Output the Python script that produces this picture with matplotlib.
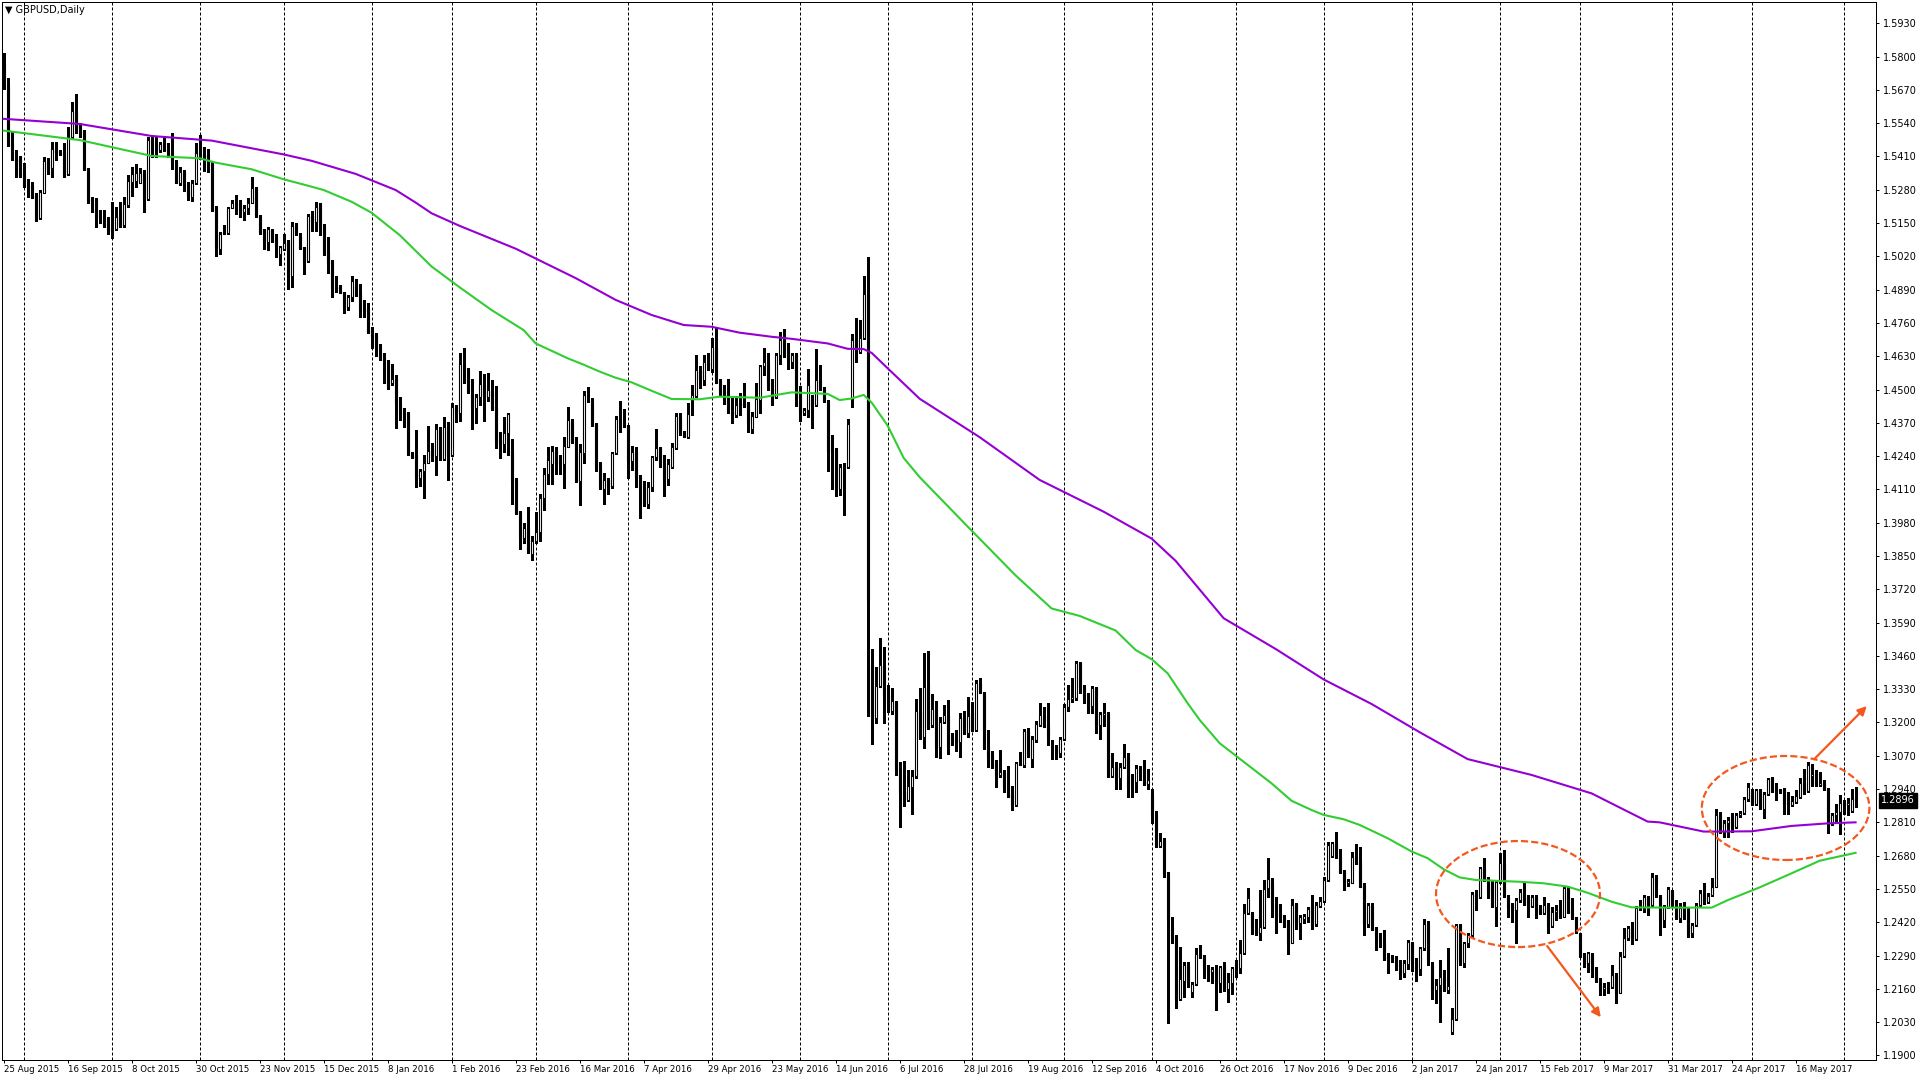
import numpy as np
import pandas as pd
import matplotlib
matplotlib.use("Agg")
import matplotlib.pyplot as plt
import matplotlib.transforms as mtransforms
from matplotlib.patches import Ellipse, FancyArrowPatch

# ---- data ----
SYMBOL = "GBPUSD,Daily"
FIRST_DAY = "2015-08-25"
SKIPPED_DAYS = ["2015-12-25", "2016-01-01"]   # no bars on these days
LAST_PRICE = 1.2896

OPEN = [
    1.5774, 1.5685, 1.5459, 1.5399, 1.5407, 1.5342, 1.5299, 1.5295, 1.5256, 1.5171,  # 0
    1.5269, 1.5393, 1.5365, 1.5442, 1.5426, 1.5422, 1.5340, 1.5487, 1.5588, 1.5533,  # 10
    1.5507, 1.5360, 1.5240, 1.5240, 1.5180, 1.5169, 1.5147, 1.5126, 1.5126, 1.5188,  # 20
    1.5141, 1.5219, 1.5312, 1.5316, 1.5308, 1.5344, 1.5243, 1.5474, 1.5458, 1.5437,  # 30
    1.5463, 1.5437, 1.5415, 1.5389, 1.5305, 1.5349, 1.5298, 1.5253, 1.5305, 1.5450,  # 40
    1.5415, 1.5415, 1.5380, 1.5203, 1.5047, 1.5113, 1.5112, 1.5210, 1.5229, 1.5229,  # 50
    1.5194, 1.5207, 1.5229, 1.5285, 1.5177, 1.5122, 1.5077, 1.5122, 1.5096, 1.5029,  # 60
    1.5047, 1.5079, 1.4944, 1.5142, 1.5099, 1.5055, 1.5003, 1.5177, 1.5155, 1.5227,  # 70
    1.5138, 1.5037, 1.5003, 1.4901, 1.4899, 1.4879, 1.4821, 1.4862, 1.4908, 1.4875,  # 80
    1.4813, 1.4813, 1.4730, 1.4711, 1.4670, 1.4628, 1.4613, 1.4524, 1.4540, 1.4443,  # 90
    1.4409, 1.4409, 1.4251, 1.4240, 1.4153, 1.4183, 1.4214, 1.4266, 1.4240, 1.4344,  # 100
    1.4227, 1.4357, 1.4244, 1.4430, 1.4407, 1.4595, 1.4582, 1.4482, 1.4426, 1.4469,  # 110
    1.4517, 1.4469, 1.4495, 1.4430, 1.4302, 1.4289, 1.4331, 1.4263, 1.4146, 1.4019,  # 120
    1.3922, 1.3958, 1.3857, 1.3909, 1.3945, 1.4075, 1.4172, 1.4211, 1.4261, 1.4214,  # 130
    1.4211, 1.4276, 1.4373, 1.4296, 1.4144, 1.4253, 1.4478, 1.4456, 1.4365, 1.4205,  # 140
    1.4110, 1.4146, 1.4124, 1.4251, 1.4381, 1.4374, 1.4358, 1.4219, 1.4258, 1.4158,  # 150
    1.4119, 1.4053, 1.4121, 1.4236, 1.4271, 1.4199, 1.4150, 1.4197, 1.4271, 1.4392,  # 160
    1.4329, 1.4316, 1.4460, 1.4475, 1.4577, 1.4538, 1.4609, 1.4579, 1.4668, 1.4535,  # 170
    1.4496, 1.4483, 1.4414, 1.4401, 1.4446, 1.4449, 1.4449, 1.4345, 1.4394, 1.4460,  # 180
    1.4592, 1.4609, 1.4501, 1.4471, 1.4633, 1.4693, 1.4666, 1.4606, 1.4636, 1.4479,  # 190
    1.4409, 1.4419, 1.4464, 1.4439, 1.4539, 1.4501, 1.4453, 1.4265, 1.4265, 1.4113,  # 200
    1.4202, 1.4196, 1.4464, 1.4692, 1.4648, 1.4703, 1.4872, 1.3425, 1.3219, 1.3343,  # 210
    1.3425, 1.3306, 1.3243, 1.3279, 1.3019, 1.2929, 1.2899, 1.2947, 1.2989, 1.3243,  # 220
    1.3142, 1.3342, 1.3190, 1.3251, 1.3105, 1.3203, 1.3229, 1.3142, 1.3134, 1.3125,  # 230
    1.3220, 1.3160, 1.3236, 1.3171, 1.3353, 1.3316, 1.3103, 1.3073, 1.3038, 1.2996,  # 240
    1.3007, 1.2952, 1.2921, 1.2878, 1.3043, 1.3034, 1.3168, 1.3056, 1.3131, 1.3190,  # 250
    1.3229, 1.3190, 1.3108, 1.3103, 1.3079, 1.3134, 1.3262, 1.3290, 1.3294, 1.3434,  # 260
    1.3337, 1.3294, 1.3264, 1.3333, 1.3190, 1.3229, 1.3233, 1.2991, 1.3025, 1.2982,  # 270
    1.3025, 1.3066, 1.2962, 1.2969, 1.3020, 1.3014, 1.2960, 1.2917, 1.2839, 1.2718,  # 280
    1.2741, 1.2613, 1.2396, 1.2357, 1.2119, 1.2192, 1.2253, 1.2149, 1.2179, 1.2296,  # 290
    1.2283, 1.2247, 1.2227, 1.2234, 1.2184, 1.2244, 1.2158, 1.2184, 1.2240, 1.2240,  # 300
    1.2298, 1.2457, 1.2452, 1.2392, 1.2376, 1.2400, 1.2552, 1.2572, 1.2487, 1.2452,  # 310
    1.2441, 1.2415, 1.2340, 1.2491, 1.2415, 1.2434, 1.2441, 1.2487, 1.2413, 1.2483,  # 320
    1.2504, 1.2585, 1.2678, 1.2728, 1.2676, 1.2621, 1.2574, 1.2574, 1.2678, 1.2656,  # 330
    1.2561, 1.2413, 1.2483, 1.2392, 1.2361, 1.2348, 1.2283, 1.2280, 1.2281, 1.2266,  # 340
    1.2220, 1.2257, 1.2337, 1.2270, 1.2236, 1.2318, 1.2413, 1.2253, 1.2155, 1.2175,  # 350
    1.2207, 1.2155, 1.1993, 1.2041, 1.2409, 1.2259, 1.2337, 1.2370, 1.2530, 1.2517,  # 360
    1.2630, 1.2587, 1.2578, 1.2478, 1.2578, 1.2652, 1.2520, 1.2487, 1.2468, 1.2507,  # 370
    1.2535, 1.2520, 1.2483, 1.2520, 1.2474, 1.2455, 1.2487, 1.2405, 1.2461, 1.2470,  # 380
    1.2442, 1.2552, 1.2470, 1.2439, 1.2376, 1.2288, 1.2262, 1.2292, 1.2233, 1.2192,  # 390
    1.2159, 1.2168, 1.2166, 1.2214, 1.2145, 1.2288, 1.2357, 1.2389, 1.2353, 1.2474,  # 400
    1.2478, 1.2517, 1.2487, 1.2598, 1.2517, 1.2429, 1.2481, 1.2540, 1.2481, 1.2435,  # 410
    1.2481, 1.2468, 1.2379, 1.2409, 1.2487, 1.2533, 1.2497, 1.2527, 1.2559, 1.2839,  # 420
    1.2774, 1.2806, 1.2826, 1.2791, 1.2839, 1.2845, 1.2900, 1.2926, 1.2882, 1.2937,  # 430
    1.2861, 1.2921, 1.2982, 1.2939, 1.2936, 1.2936, 1.2887, 1.2878, 1.2891, 1.2910,  # 440
    1.2965, 1.2934, 1.2991, 1.2999, 1.2956, 1.2965, 1.2939, 1.2804, 1.2839, 1.2852,  # 450
    1.2884, 1.2878, 1.2856, 1.2904,                                                  # 460
]
HIGH = [
    1.5813, 1.5715, 1.5507, 1.5435, 1.5412, 1.5383, 1.5321, 1.5312, 1.5266, 1.5279,
    1.5409, 1.5403, 1.5468, 1.5468, 1.5435, 1.5461, 1.5527, 1.5624, 1.5654, 1.5540,
    1.5514, 1.5364, 1.5253, 1.5247, 1.5201, 1.5201, 1.5175, 1.5234, 1.5214, 1.5234,
    1.5253, 1.5338, 1.5370, 1.5381, 1.5364, 1.5357, 1.5485, 1.5494, 1.5487, 1.5467,
    1.5487, 1.5461, 1.5502, 1.5396, 1.5370, 1.5357, 1.5311, 1.5318, 1.5461, 1.5493,
    1.5448, 1.5441, 1.5389, 1.5216, 1.5116, 1.5142, 1.5214, 1.5242, 1.5259, 1.5240,
    1.5220, 1.5246, 1.5331, 1.5289, 1.5181, 1.5125, 1.5133, 1.5125, 1.5109, 1.5060,
    1.5109, 1.5083, 1.5155, 1.5151, 1.5112, 1.5057, 1.5187, 1.5198, 1.5233, 1.5230,
    1.5146, 1.5094, 1.5006, 1.4943, 1.4908, 1.4882, 1.4869, 1.4943, 1.4930, 1.4912,
    1.4849, 1.4839, 1.4745, 1.4719, 1.4678, 1.4641, 1.4615, 1.4600, 1.4557, 1.4472,
    1.4426, 1.4413, 1.4257, 1.4342, 1.4188, 1.4244, 1.4357, 1.4290, 1.4365, 1.4352,
    1.4391, 1.4374, 1.4446, 1.4439, 1.4643, 1.4664, 1.4586, 1.4543, 1.4482, 1.4573,
    1.4560, 1.4565, 1.4537, 1.4513, 1.4335, 1.4391, 1.4407, 1.4305, 1.4153, 1.4027,
    1.3980, 1.4042, 1.3928, 1.4023, 1.4094, 1.4192, 1.4276, 1.4279, 1.4274, 1.4244,
    1.4315, 1.4430, 1.4383, 1.4313, 1.4289, 1.4495, 1.4511, 1.4465, 1.4368, 1.4218,
    1.4175, 1.4153, 1.4258, 1.4397, 1.4457, 1.4423, 1.4362, 1.4280, 1.4277, 1.4167,
    1.4141, 1.4137, 1.4241, 1.4345, 1.4277, 1.4245, 1.4228, 1.4290, 1.4407, 1.4407,
    1.4340, 1.4447, 1.4518, 1.4635, 1.4590, 1.4635, 1.4642, 1.4700, 1.4739, 1.4540,
    1.4518, 1.4540, 1.4473, 1.4473, 1.4486, 1.4525, 1.4453, 1.4414, 1.4525, 1.4596,
    1.4661, 1.4642, 1.4543, 1.4642, 1.4725, 1.4737, 1.4681, 1.4643, 1.4643, 1.4513,
    1.4429, 1.4579, 1.4479, 1.4658, 1.4594, 1.4509, 1.4459, 1.4322, 1.4270, 1.4210,
    1.4214, 1.4385, 1.4718, 1.4778, 1.4770, 1.4942, 1.5017, 1.3485, 1.3418, 1.3530,
    1.3493, 1.3348, 1.3336, 1.3283, 1.3044, 1.3049, 1.3014, 1.3014, 1.3291, 1.3336,
    1.3470, 1.3480, 1.3311, 1.3285, 1.3220, 1.3268, 1.3288, 1.3157, 1.3171, 1.3236,
    1.3246, 1.3298, 1.3281, 1.3366, 1.3372, 1.3320, 1.3171, 1.3090, 1.3053, 1.3092,
    1.3014, 1.3030, 1.2952, 1.3047, 1.3086, 1.3173, 1.3177, 1.3147, 1.3207, 1.3277,
    1.3262, 1.3277, 1.3131, 1.3112, 1.3144, 1.3272, 1.3346, 1.3372, 1.3441, 1.3437,
    1.3346, 1.3314, 1.3342, 1.3340, 1.3242, 1.3275, 1.3242, 1.3082, 1.3047, 1.3040,
    1.3116, 1.3082, 1.2999, 1.3034, 1.3030, 1.3053, 1.3017, 1.2939, 1.2856, 1.2767,
    1.2748, 1.2617, 1.2442, 1.2370, 1.2325, 1.2266, 1.2266, 1.2188, 1.2318, 1.2331,
    1.2292, 1.2253, 1.2247, 1.2253, 1.2249, 1.2266, 1.2223, 1.2246, 1.2272, 1.2350,
    1.2491, 1.2552, 1.2461, 1.2431, 1.2546, 1.2585, 1.2669, 1.2591, 1.2520, 1.2491,
    1.2448, 1.2428, 1.2509, 1.2494, 1.2448, 1.2454, 1.2480, 1.2526, 1.2500, 1.2520,
    1.2598, 1.2734, 1.2734, 1.2773, 1.2704, 1.2624, 1.2587, 1.2695, 1.2725, 1.2715,
    1.2572, 1.2494, 1.2496, 1.2402, 1.2376, 1.2389, 1.2301, 1.2292, 1.2288, 1.2272,
    1.2272, 1.2350, 1.2344, 1.2279, 1.2324, 1.2431, 1.2426, 1.2266, 1.2197, 1.2272,
    1.2233, 1.2318, 1.2084, 1.2413, 1.2413, 1.2344, 1.2379, 1.2539, 1.2546, 1.2637,
    1.2669, 1.2595, 1.2585, 1.2585, 1.2689, 1.2702, 1.2526, 1.2494, 1.2513, 1.2548,
    1.2578, 1.2526, 1.2526, 1.2526, 1.2487, 1.2520, 1.2494, 1.2478, 1.2487, 1.2507,
    1.2559, 1.2561, 1.2513, 1.2441, 1.2379, 1.2301, 1.2305, 1.2298, 1.2246, 1.2201,
    1.2181, 1.2188, 1.2253, 1.2220, 1.2305, 1.2396, 1.2405, 1.2422, 1.2483, 1.2507,
    1.2526, 1.2522, 1.2611, 1.2604, 1.2526, 1.2487, 1.2559, 1.2546, 1.2507, 1.2494,
    1.2500, 1.2474, 1.2416, 1.2494, 1.2546, 1.2572, 1.2533, 1.2592, 1.2861, 1.2852,
    1.2819, 1.2832, 1.2845, 1.2845, 1.2856, 1.2908, 1.2962, 1.2939, 1.2939, 1.2939,
    1.2930, 1.2982, 1.2986, 1.2962, 1.2939, 1.2943, 1.2930, 1.2913, 1.2936, 1.2982,
    1.3017, 1.3047, 1.3038, 1.3015, 1.3008, 1.2976, 1.2943, 1.2848, 1.2882, 1.2917,
    1.2897, 1.2904, 1.2939, 1.2947,
]
LOW = [
    1.5672, 1.5452, 1.5396, 1.5331, 1.5331, 1.5292, 1.5253, 1.5247, 1.5160, 1.5167,
    1.5266, 1.5342, 1.5329, 1.5396, 1.5416, 1.5331, 1.5338, 1.5484, 1.5501, 1.5488,
    1.5357, 1.5227, 1.5195, 1.5136, 1.5149, 1.5136, 1.5107, 1.5091, 1.5123, 1.5136,
    1.5136, 1.5214, 1.5256, 1.5292, 1.5305, 1.5195, 1.5240, 1.5409, 1.5409, 1.5428,
    1.5432, 1.5409, 1.5363, 1.5305, 1.5298, 1.5276, 1.5242, 1.5237, 1.5302, 1.5402,
    1.5354, 1.5350, 1.5198, 1.5022, 1.5031, 1.5107, 1.5109, 1.5207, 1.5187, 1.5174,
    1.5161, 1.5185, 1.5227, 1.5172, 1.5107, 1.5047, 1.5044, 1.5077, 1.5018, 1.4988,
    1.5044, 1.4891, 1.4899, 1.5103, 1.5047, 1.4953, 1.4999, 1.5120, 1.5120, 1.5103,
    1.5025, 1.4954, 1.4860, 1.4882, 1.4875, 1.4800, 1.4810, 1.4847, 1.4865, 1.4782,
    1.4784, 1.4722, 1.4661, 1.4631, 1.4615, 1.4527, 1.4501, 1.4518, 1.4348, 1.4381,
    1.4355, 1.4244, 1.4231, 1.4121, 1.4123, 1.4075, 1.4212, 1.4222, 1.4166, 1.4225,
    1.4225, 1.4147, 1.4240, 1.4374, 1.4378, 1.4524, 1.4485, 1.4344, 1.4368, 1.4439,
    1.4378, 1.4456, 1.4422, 1.4270, 1.4231, 1.4257, 1.4244, 1.4053, 1.4013, 1.3876,
    1.3899, 1.3863, 1.3834, 1.3899, 1.3909, 1.4029, 1.4131, 1.4131, 1.4170, 1.4170,
    1.4114, 1.4274, 1.4292, 1.4140, 1.4049, 1.4214, 1.4452, 1.4357, 1.4183, 1.4110,
    1.4053, 1.4094, 1.4115, 1.4249, 1.4336, 1.4353, 1.4154, 1.4184, 1.4119, 1.3997,
    1.4046, 1.4037, 1.4105, 1.4225, 1.4197, 1.4085, 1.4128, 1.4193, 1.4267, 1.4323,
    1.4314, 1.4310, 1.4401, 1.4470, 1.4505, 1.4518, 1.4577, 1.4570, 1.4525, 1.4479,
    1.4444, 1.4410, 1.4371, 1.4394, 1.4401, 1.4433, 1.4336, 1.4329, 1.4392, 1.4407,
    1.4557, 1.4499, 1.4439, 1.4468, 1.4598, 1.4628, 1.4579, 1.4583, 1.4434, 1.4379,
    1.4400, 1.4394, 1.4349, 1.4434, 1.4498, 1.4453, 1.4180, 1.4113, 1.4086, 1.4090,
    1.4011, 1.4195, 1.4430, 1.4609, 1.4643, 1.4698, 1.3224, 1.3115, 1.3198, 1.3339,
    1.3198, 1.3239, 1.3234, 1.2995, 1.2790, 1.2872, 1.2895, 1.2843, 1.2985, 1.3134,
    1.3099, 1.3173, 1.3184, 1.3066, 1.3060, 1.3197, 1.3077, 1.3112, 1.3090, 1.3064,
    1.3155, 1.3144, 1.3168, 1.3168, 1.3314, 1.3095, 1.3027, 1.3021, 1.2949, 1.2988,
    1.2930, 1.2908, 1.2858, 1.2874, 1.3034, 1.3027, 1.3066, 1.3027, 1.3125, 1.3186,
    1.3181, 1.3112, 1.3056, 1.3056, 1.3064, 1.3131, 1.3246, 1.3281, 1.3288, 1.3314,
    1.3275, 1.3236, 1.3236, 1.3160, 1.3134, 1.3186, 1.2988, 1.2988, 1.2939, 1.2939,
    1.3021, 1.2908, 1.2910, 1.2930, 1.2975, 1.2956, 1.2939, 1.2809, 1.2712, 1.2715,
    1.2598, 1.2025, 1.2340, 1.2084, 1.2116, 1.2129, 1.2168, 1.2129, 1.2175, 1.2279,
    1.2201, 1.2192, 1.2181, 1.2077, 1.2149, 1.2153, 1.2110, 1.2140, 1.2207, 1.2220,
    1.2296, 1.2454, 1.2374, 1.2370, 1.2350, 1.2396, 1.2520, 1.2439, 1.2376, 1.2422,
    1.2402, 1.2296, 1.2337, 1.2392, 1.2353, 1.2415, 1.2422, 1.2392, 1.2405, 1.2478,
    1.2500, 1.2582, 1.2673, 1.2669, 1.2613, 1.2546, 1.2561, 1.2572, 1.2647, 1.2556,
    1.2370, 1.2402, 1.2389, 1.2311, 1.2324, 1.2272, 1.2223, 1.2266, 1.2233, 1.2197,
    1.2207, 1.2236, 1.2231, 1.2192, 1.2214, 1.2311, 1.2253, 1.2119, 1.2103, 1.2032,
    1.2153, 1.2142, 1.1983, 1.2038, 1.2253, 1.2246, 1.2324, 1.2363, 1.2468, 1.2513,
    1.2582, 1.2513, 1.2478, 1.2405, 1.2574, 1.2517, 1.2442, 1.2422, 1.2340, 1.2500,
    1.2487, 1.2442, 1.2478, 1.2435, 1.2452, 1.2452, 1.2376, 1.2402, 1.2428, 1.2435,
    1.2439, 1.2455, 1.2431, 1.2376, 1.2283, 1.2246, 1.2227, 1.2207, 1.2188, 1.2136,
    1.2136, 1.2142, 1.2162, 1.2103, 1.2142, 1.2283, 1.2350, 1.2335, 1.2350, 1.2468,
    1.2461, 1.2448, 1.2483, 1.2517, 1.2370, 1.2400, 1.2474, 1.2478, 1.2432, 1.2419,
    1.2432, 1.2364, 1.2364, 1.2405, 1.2483, 1.2491, 1.2494, 1.2523, 1.2556, 1.2770,
    1.2754, 1.2752, 1.2774, 1.2787, 1.2832, 1.2843, 1.2895, 1.2878, 1.2878, 1.2861,
    1.2826, 1.2917, 1.2930, 1.2897, 1.2923, 1.2843, 1.2843, 1.2874, 1.2887, 1.2904,
    1.2921, 1.2930, 1.2950, 1.2950, 1.2950, 1.2936, 1.2770, 1.2800, 1.2806, 1.2765,
    1.2843, 1.2839, 1.2852, 1.2869,
]
CLOSE = [
    1.5676, 1.5455, 1.5399, 1.5390, 1.5338, 1.5295, 1.5292, 1.5249, 1.5162, 1.5273,
    1.5393, 1.5363, 1.5439, 1.5422, 1.5421, 1.5335, 1.5485, 1.5588, 1.5524, 1.5501,
    1.5360, 1.5238, 1.5238, 1.5175, 1.5171, 1.5143, 1.5123, 1.5120, 1.5175, 1.5139,
    1.5225, 1.5314, 1.5340, 1.5344, 1.5344, 1.5243, 1.5474, 1.5457, 1.5437, 1.5458,
    1.5437, 1.5415, 1.5389, 1.5307, 1.5349, 1.5294, 1.5255, 1.5305, 1.5422, 1.5409,
    1.5409, 1.5376, 1.5201, 1.5051, 1.5109, 1.5108, 1.5207, 1.5227, 1.5224, 1.5198,
    1.5207, 1.5229, 1.5285, 1.5177, 1.5116, 1.5077, 1.5126, 1.5096, 1.5060, 1.5055,
    1.5074, 1.4944, 1.5138, 1.5107, 1.5051, 1.5003, 1.5177, 1.5155, 1.5211, 1.5136,
    1.5034, 1.4993, 1.4898, 1.4891, 1.4878, 1.4823, 1.4862, 1.4924, 1.4869, 1.4813,
    1.4808, 1.4726, 1.4706, 1.4667, 1.4628, 1.4613, 1.4508, 1.4540, 1.4443, 1.4404,
    1.4404, 1.4251, 1.4235, 1.4153, 1.4183, 1.4214, 1.4261, 1.4240, 1.4344, 1.4227,
    1.4355, 1.4240, 1.4430, 1.4407, 1.4599, 1.4582, 1.4495, 1.4426, 1.4469, 1.4521,
    1.4469, 1.4500, 1.4426, 1.4296, 1.4289, 1.4331, 1.4404, 1.4144, 1.4016, 1.3922,
    1.3958, 1.3870, 1.3909, 1.3945, 1.4075, 1.4172, 1.4224, 1.4261, 1.4211, 1.4209,
    1.4279, 1.4381, 1.4296, 1.4144, 1.4257, 1.4478, 1.4469, 1.4361, 1.4201, 1.4114,
    1.4146, 1.4120, 1.4251, 1.4384, 1.4374, 1.4355, 1.4219, 1.4258, 1.4158, 1.4119,
    1.4053, 1.4121, 1.4236, 1.4271, 1.4199, 1.4150, 1.4210, 1.4275, 1.4397, 1.4329,
    1.4316, 1.4405, 1.4479, 1.4577, 1.4540, 1.4609, 1.4596, 1.4668, 1.4527, 1.4488,
    1.4475, 1.4423, 1.4401, 1.4440, 1.4441, 1.4441, 1.4371, 1.4397, 1.4462, 1.4592,
    1.4609, 1.4509, 1.4471, 1.4633, 1.4693, 1.4666, 1.4621, 1.4636, 1.4479, 1.4412,
    1.4419, 1.4519, 1.4434, 1.4539, 1.4501, 1.4456, 1.4255, 1.4259, 1.4113, 1.4199,
    1.4196, 1.4364, 1.4692, 1.4648, 1.4703, 1.4872, 1.3679, 1.3219, 1.3343, 1.3425,
    1.3306, 1.3264, 1.3283, 1.3014, 1.2925, 1.2899, 1.2950, 1.2989, 1.3243, 1.3141,
    1.3337, 1.3177, 1.3251, 1.3105, 1.3203, 1.3229, 1.3103, 1.3134, 1.3125, 1.3216,
    1.3157, 1.3225, 1.3171, 1.3355, 1.3316, 1.3103, 1.3064, 1.3034, 1.2995, 1.3007,
    1.2949, 1.2910, 1.2878, 1.3040, 1.3035, 1.3168, 1.3069, 1.3134, 1.3194, 1.3229,
    1.3184, 1.3138, 1.3103, 1.3079, 1.3134, 1.3262, 1.3290, 1.3298, 1.3431, 1.3337,
    1.3294, 1.3264, 1.3333, 1.3186, 1.3233, 1.3236, 1.2991, 1.3025, 1.2982, 1.3025,
    1.3066, 1.2947, 1.2969, 1.3021, 1.3012, 1.2960, 1.2975, 1.2839, 1.2718, 1.2738,
    1.2608, 1.2431, 1.2357, 1.2119, 1.2197, 1.2253, 1.2181, 1.2179, 1.2296, 1.2283,
    1.2247, 1.2227, 1.2236, 1.2184, 1.2244, 1.2158, 1.2188, 1.2240, 1.2236, 1.2298,
    1.2457, 1.2513, 1.2392, 1.2376, 1.2400, 1.2548, 1.2587, 1.2483, 1.2448, 1.2439,
    1.2413, 1.2340, 1.2487, 1.2413, 1.2439, 1.2444, 1.2470, 1.2409, 1.2487, 1.2504,
    1.2585, 1.2721, 1.2728, 1.2673, 1.2617, 1.2578, 1.2582, 1.2673, 1.2650, 1.2559,
    1.2413, 1.2487, 1.2392, 1.2361, 1.2348, 1.2279, 1.2278, 1.2285, 1.2266, 1.2218,
    1.2259, 1.2344, 1.2270, 1.2231, 1.2318, 1.2413, 1.2275, 1.2155, 1.2175, 1.2207,
    1.2155, 1.2171, 1.2041, 1.2409, 1.2259, 1.2337, 1.2370, 1.2530, 1.2517, 1.2630,
    1.2587, 1.2539, 1.2481, 1.2578, 1.2652, 1.2520, 1.2478, 1.2468, 1.2507, 1.2539,
    1.2504, 1.2483, 1.2520, 1.2468, 1.2455, 1.2487, 1.2405, 1.2461, 1.2468, 1.2442,
    1.2552, 1.2457, 1.2435, 1.2383, 1.2288, 1.2262, 1.2298, 1.2233, 1.2192, 1.2162,
    1.2166, 1.2162, 1.2214, 1.2145, 1.2288, 1.2357, 1.2396, 1.2353, 1.2474, 1.2483,
    1.2517, 1.2465, 1.2598, 1.2572, 1.2429, 1.2483, 1.2548, 1.2481, 1.2435, 1.2474,
    1.2465, 1.2370, 1.2409, 1.2487, 1.2533, 1.2497, 1.2523, 1.2559, 1.2839, 1.2774,
    1.2809, 1.2819, 1.2791, 1.2839, 1.2848, 1.2900, 1.2947, 1.2882, 1.2937, 1.2865,
    1.2921, 1.2978, 1.2934, 1.2931, 1.2931, 1.2882, 1.2882, 1.2894, 1.2913, 1.2965,
    1.2934, 1.3034, 1.2999, 1.2956, 1.2965, 1.2939, 1.2804, 1.2839, 1.2852, 1.2884,
    1.2878, 1.2884, 1.2900, 1.2896,
]

# moving averages, sampled along the chart (bar index, price)
MA_GREEN_BAR = [0, 19, 37, 49, 53, 62, 70, 77, 80, 87, 92, 99, 107, 114, 122, 130,
                133, 141, 145, 149, 153, 157, 162, 167, 174, 179, 189, 197, 206,
                209, 212, 215, 217, 221, 225, 229, 241, 253, 262, 269, 278, 283,
                287, 291, 296, 299, 304, 317, 322, 327, 330, 335, 339, 346, 352,
                356, 360, 364, 368, 379, 385, 391, 396, 402, 407, 417, 427, 431,
                439, 447, 454, 463]
MA_GREEN = [1.5511, 1.5474, 1.5412, 1.5403, 1.5386, 1.5360, 1.5321, 1.5292, 1.5279,
            1.5233, 1.5190, 1.5103, 1.4980, 1.4899, 1.4810, 1.4732, 1.4680, 1.4622,
            1.4597, 1.4570, 1.4546, 1.4528, 1.4495, 1.4463, 1.4462, 1.4472, 1.4468,
            1.4489, 1.4483, 1.4459, 1.4465, 1.4479, 1.4449, 1.4359, 1.4233, 1.4158,
            1.3965, 1.3774, 1.3645, 1.3616, 1.3559, 1.3483, 1.3447, 1.3392, 1.3275,
            1.3210, 1.3119, 1.2962, 1.2894, 1.2858, 1.2839, 1.2822, 1.2800, 1.2748,
            1.2696, 1.2670, 1.2627, 1.2595, 1.2585, 1.2578, 1.2572, 1.2559, 1.2535,
            1.2500, 1.2478, 1.2477, 1.2477, 1.2506, 1.2556, 1.2611, 1.2660, 1.2691]
MA_PURPLE_BAR = [0, 19, 37, 52, 70, 77, 88, 98, 103, 107, 114, 128, 143, 153, 162,
                 170, 177, 184, 192, 197, 206, 211, 215, 217, 221, 229, 244, 259,
                 275, 287, 293, 305, 318, 330, 342, 354, 366, 382, 397, 411, 414,
                 425, 428, 437, 447, 456, 463]
MA_PURPLE = [1.5557, 1.5537, 1.5490, 1.5472, 1.5418, 1.5393, 1.5342, 1.5279, 1.5230,
             1.5188, 1.5139, 1.5050, 1.4935, 1.4850, 1.4791, 1.4752, 1.4745, 1.4722,
             1.4706, 1.4698, 1.4680, 1.4659, 1.4658, 1.4643, 1.4583, 1.4464, 1.4314,
             1.4147, 1.4023, 1.3918, 1.3831, 1.3607, 1.3487, 1.3368, 1.3272, 1.3162,
             1.3057, 1.2995, 1.2923, 1.2813, 1.2810, 1.2774, 1.2774, 1.2775, 1.2796,
             1.2806, 1.2810]

PRICE_TICKS = [1.1900, 1.2030, 1.2160, 1.2290, 1.2420, 1.2550, 1.2680, 1.2810,
               1.2940, 1.3070, 1.3200, 1.3330, 1.3460, 1.3590, 1.3720, 1.3850,
               1.3980, 1.4110, 1.4240, 1.4370, 1.4500, 1.4630, 1.4760, 1.4890,
               1.5020, 1.5150, 1.5280, 1.5410, 1.5540, 1.5670, 1.5800, 1.5930]
DATE_LABEL_EVERY = 16

GREEN = "#32CD32"
PURPLE = "#9400D3"
MARK = "#F4581F"

n = len(CLOSE)
assert len(OPEN) == len(HIGH) == len(LOW) == n
o, h, l, c = (np.array(v) for v in (OPEN, HIGH, LOW, CLOSE))
x = np.arange(n)

days = pd.bdate_range(FIRST_DAY, periods=n + 10)
days = days[~days.isin(pd.to_datetime(SKIPPED_DAYS))][:n]

fig = plt.figure(figsize=(19.2, 10.8), dpi=100)
fig.patch.set_facecolor("white")
ax = fig.add_axes([2.3 / 1920, 20 / 1080, (1876 - 2.3) / 1920, 1058 / 1080])
ax.set_xlim(-0.35, 468.1)
ax.set_ylim(1.1882, 1.60132)

# month separators
new_month = [i for i in range(1, n) if days[i].month != days[i - 1].month]
for i in new_month:
    ax.axvline(i, color="black", lw=0.72, ls=(0, (3, 2)), zorder=1)

# candles: hollow = up day, filled = down day
ax.vlines(x, l, h, color="black", linewidth=0.8, zorder=2, antialiased=False)
up = c >= o
ax.bar(x[up], (c - o)[up], bottom=o[up], width=0.5, facecolor="white",
       edgecolor="black", linewidth=0.8, zorder=3)
ax.bar(x[~up], (o - c)[~up], bottom=c[~up], width=0.5, facecolor="black",
       edgecolor="black", linewidth=0.8, zorder=3)

# moving averages
ax.plot(MA_GREEN_BAR, MA_GREEN, color=GREEN, lw=1.5, zorder=4)
ax.plot(MA_PURPLE_BAR, MA_PURPLE, color=PURPLE, lw=1.5, zorder=4)

# hand-drawn markup
for (cx, cy), w, hh in [((378.6, 1.2530), 41.0, 0.0414), ((445.5, 1.2866), 41.9, 0.0406)]:
    ax.add_patch(Ellipse((cx, cy), w, hh, fill=False, edgecolor=MARK, lw=1.6,
                         ls=(0, (3.2, 1.4)), zorder=5))
for start, end in [((385.9, 1.2327), (399.3, 1.2049)), ((452.6, 1.3056), (465.8, 1.3264))]:
    ax.add_patch(FancyArrowPatch(start, end, arrowstyle="-|>", mutation_scale=13,
                                 lw=1.6, color=MARK, shrinkA=0, shrinkB=0, zorder=5))

# axes styling
for s in ax.spines.values():
    s.set_color("black")
    s.set_linewidth(0.72)
ax.yaxis.tick_right()
ax.set_yticks(PRICE_TICKS)
ax.set_yticklabels([f"{p:.4f}" for p in PRICE_TICKS])
ax.tick_params(axis="y", direction="out", length=2.2, width=0.72, pad=2.5, labelsize=7)

xt = x[::DATE_LABEL_EVERY]
ax.set_xticks(xt)
ax.set_xticklabels([f"{d.day} {d:%b %Y}" for d in days[::DATE_LABEL_EVERY]])
ax.tick_params(axis="x", direction="out", length=2.2, width=0.72, pad=1.5, labelsize=6.2)
for t in ax.get_xticklabels():
    t.set_ha("left")

trans = mtransforms.blended_transform_factory(ax.transAxes, ax.transData)
ax.text(1.0 + 5 / 1874, LAST_PRICE, f"{LAST_PRICE:.4f}", transform=trans,
        ha="left", va="center", fontsize=7, color="white", clip_on=False, zorder=6,
        bbox=dict(boxstyle="square,pad=0.25", fc="black", ec="black"))

fig.text(5 / 1920, 1 - 10 / 1080, "\u25bc " + SYMBOL, fontsize=7, va="center")

fig.savefig("out.png", dpi=100)
